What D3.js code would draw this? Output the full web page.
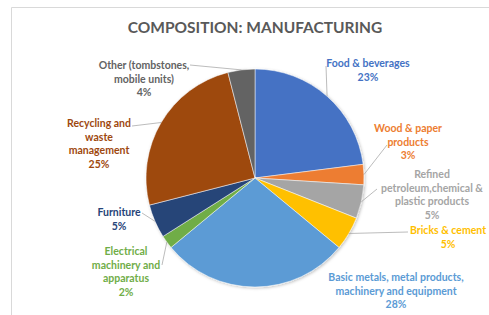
<!DOCTYPE html>
<html>
<head>
<meta charset="utf-8">
<script src="https://cdn.jsdelivr.net/npm/d3@7"></script>
<style>
  body { margin: 0; background: #fff; }
  text { font-family: Lato, "Open Sans", sans-serif; font-weight: bold; }
</style>
</head>
<body>
<div id="chart"></div>
<script>
// data, clockwise from 12 o'clock
let categories = [
  "Food & beverages",
  "Wood & paper products",
  "Refined petroleum,chemical & plastic products",
  "Bricks & cement",
  "Basic metals, metal products, machinery and equipment",
  "Electrical machinery and apparatus",
  "Furniture",
  "Recycling and waste management",
  "Other (tombstones, mobile units)"
];
let values = [23, 3, 5, 5, 28, 2, 5, 25, 4];
let percentLabels = ["23%", "3%", "5%", "5%", "28%", "2%", "5%", "25%", "4%"];
let colors = ["#4472C4", "#ED7D31", "#A5A5A5", "#FFC000", "#5B9BD5",
              "#70AD47", "#264478", "#9E480E", "#636363"];
// how each label is broken into lines
let labelLines = [
  ["Food & beverages"],
  ["Wood & paper", "products"],
  ["Refined", "petroleum,chemical &", "plastic products"],
  ["Bricks & cement"],
  ["Basic metals, metal products,", "machinery and equipment"],
  ["Electrical", "machinery and", "apparatus"],
  ["Furniture"],
  ["Recycling and", "waste", "management"],
  ["Other (tombstones,", "mobile units)"]
];
// label block centre (x, y of first line) and leader line start
let labelPos = [
  [368, 63, 326, 66],
  [408, 128, 387, 145],
  [432, 174, 377, 189],
  [448, 230, 408, 232],
  [396, 277, null, null],
  [126, 251, 162, 265],
  [119, 212, 142, 213],
  [99, 123, 132, 126],
  [144, 65, 190, 65]
];

let width = 489, height = 315;
let cx = 255, cy = 178, radius = 109;
let lineH = 13.5;

let svg = d3.select("#chart")
  .append("svg")
  .attr("width", width)
  .attr("height", height);

// chart frame
svg.append("path")
  .attr("d", "M11.5," + height + "V7.5H" + width)
  .attr("fill", "none")
  .attr("stroke", "#d9d9d9")
  .attr("stroke-width", 1);

// title
svg.append("text")
  .attr("x", 255)
  .attr("y", 33)
  .attr("text-anchor", "middle")
  .attr("fill", "#595959")
  .style("font-size", "15.5px")
  .text("COMPOSITION: MANUFACTURING");

let pie = d3.pie().sort(null).value(d => d);
let arcs = pie(values);
let arc = d3.arc().innerRadius(0).outerRadius(radius);

let defs = svg.append("defs");
let shadow = defs.append("filter").attr("id", "shadow")
  .attr("x", "-20%").attr("y", "-20%").attr("width", "140%").attr("height", "140%");
shadow.append("feDropShadow")
  .attr("dx", 1).attr("dy", 1).attr("stdDeviation", 1.5)
  .attr("flood-color", "#000").attr("flood-opacity", 0.25);

let g = svg.append("g")
  .attr("transform", "translate(" + cx + "," + cy + ")");

g.append("g")
  .attr("filter", "url(#shadow)")
  .selectAll("path")
  .data(arcs)
  .enter()
  .append("path")
  .attr("d", arc)
  .attr("fill", (d, i) => colors[i])
  .attr("stroke", "#fff")
  .attr("stroke-width", 0.5);

// leader lines from label to the slice edge
arcs.forEach(function (d, i) {
  let p = labelPos[i];
  if (p[2] === null) return;
  let mid = (d.startAngle + d.endAngle) / 2;
  let ex = cx + radius * Math.sin(mid);
  let ey = cy - radius * Math.cos(mid);
  svg.append("line")
    .attr("x1", p[2]).attr("y1", p[3])
    .attr("x2", ex).attr("y2", ey)
    .attr("stroke", "#a6a6a6")
    .attr("stroke-width", 0.75);
});

// labels
arcs.forEach(function (d, i) {
  let p = labelPos[i];
  let lines = labelLines[i].concat([percentLabels[i]]);
  let t = svg.append("text")
    .attr("text-anchor", "middle")
    .attr("fill", colors[i])
    .style("font-size", "10.5px");
  lines.forEach(function (s, k) {
    t.append("tspan")
      .attr("x", p[0])
      .attr("y", p[1] + 4 + k * lineH)
      .text(s);
  });
});
</script>
</body>
</html>
